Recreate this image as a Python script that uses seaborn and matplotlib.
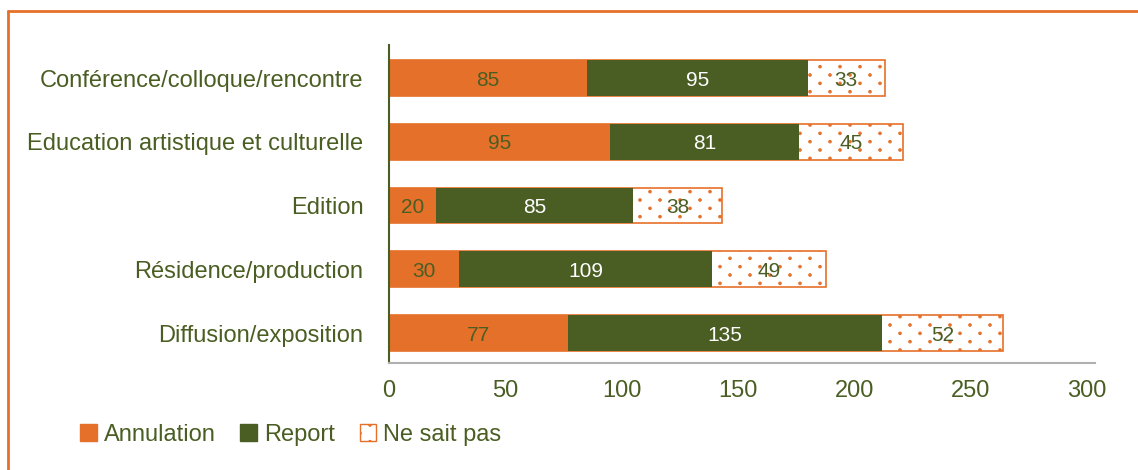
import matplotlib
matplotlib.use("Agg")
import matplotlib.pyplot as plt
import matplotlib.hatch as mhatch
from matplotlib.path import Path
import seaborn as sns
import numpy as np
import pandas as pd
from matplotlib.patches import Patch
from matplotlib.lines import Line2D

categories = ["Conférence/colloque/rencontre", "Education artistique et culturelle",
              "Edition", "Résidence/production", "Diffusion/exposition"]
annulation = [85, 95, 20, 30, 77]
report = [95, 81, 85, 109, 135]
ne_sait_pas = [33, 45, 38, 49, 52]
x_ticks = [0, 50, 100, 150, 200, 250, 300]

ORANGE = "#e5702a"
GREEN = "#4a5e23"
TEXT = "#4a5e23"


# Sparse staggered dot hatch (wider horizontally than vertically), replacing '.'
class SparseDots(mhatch.HatchPatternBase):
    rows = 12
    cols = 5
    radius = 0.013

    def __init__(self, hatch, density):
        self.active = hatch.count('.') > 0
        circ = Path.unit_circle()
        self.shape_vertices = circ.vertices
        self.shape_codes = circ.codes
        n_pts = 0
        for r in range(self.rows + 1):
            n_pts += (self.cols + 1) if r % 2 == 0 else self.cols
        self.num_vertices = n_pts * len(self.shape_vertices) if self.active else 0

    def set_vertices_and_codes(self, vertices, codes):
        sv = self.shape_vertices * self.radius
        vparts, cparts = [], []
        dx = 1.0 / self.cols
        for r in range(self.rows + 1):
            if r % 2 == 0:
                xs = np.linspace(0, 1, self.cols + 1)
            else:
                xs = np.linspace(dx / 2, 1 - dx / 2, self.cols)
            y = r / self.rows
            for x in xs:
                vparts.append(sv + [x, y])
                cparts.append(self.shape_codes)
        np.concatenate(vparts, out=vertices)
        np.concatenate(cparts, out=codes)


mhatch._hatch_types = [t for t in mhatch._hatch_types if t is not mhatch.SmallFilledCircles] + [SparseDots]

sns.set_theme(style="white")
plt.rcParams["font.family"] = ["Liberation Sans", "DejaVu Sans"]
plt.rcParams["hatch.color"] = ORANGE
plt.rcParams["hatch.linewidth"] = 0.7

ann = np.array(annulation)
rep = np.array(report)
nsp = np.array(ne_sait_pas)
df = pd.DataFrame({"cat": categories, "a": ann, "ar": ann + rep, "arn": ann + rep + nsp})

fig = plt.figure(figsize=(11.38, 4.70), dpi=100)
ax = fig.add_axes([389/1138, 1-363/470, (1095-389)/1138, (363-45)/470])

bw = 0.56
sns.barplot(data=df, y="cat", x="arn", orient="h", color="white", edgecolor=ORANGE,
            linewidth=1.2, hatch=".", width=bw, ax=ax, saturation=1)
sns.barplot(data=df, y="cat", x="ar", orient="h", color=GREEN, width=bw, ax=ax,
            saturation=1, linewidth=0)
sns.barplot(data=df, y="cat", x="a", orient="h", color=ORANGE, width=bw, ax=ax,
            saturation=1, linewidth=0)

FS = 17
for i in range(len(categories)):
    ax.text(ann[i] / 2, i, str(ann[i]), ha="center", va="center_baseline", fontsize=15, color=TEXT)
    ax.text(ann[i] + rep[i] / 2, i, str(rep[i]), ha="center", va="center_baseline", fontsize=15, color="white")
    ax.text(ann[i] + rep[i] + nsp[i] / 2, i, str(nsp[i]), ha="center", va="center_baseline", fontsize=15, color=TEXT)

ax.set_xlim(0, 303.4)
ax.set_ylim(4.47, -0.52)
ax.set_xticks(x_ticks)
ax.set_xticklabels([str(t) for t in x_ticks])
ax.set_xlabel("")
ax.set_ylabel("")
ax.tick_params(axis="x", length=0, pad=12, labelsize=FS, labelcolor=TEXT)
ax.tick_params(axis="y", length=0, pad=18.5, labelsize=FS, labelcolor=TEXT)
for s in ["top", "right"]:
    ax.spines[s].set_visible(False)
ax.spines["left"].set_color(GREEN)
ax.spines["left"].set_linewidth(1.5)
ax.spines["bottom"].set_color("#b0b0b0")
ax.spines["bottom"].set_linewidth(1.5)

handles = [Patch(facecolor=ORANGE, edgecolor=ORANGE, label="Annulation"),
           Patch(facecolor=GREEN, edgecolor=GREEN, label="Report"),
           Patch(facecolor="white", edgecolor=ORANGE, hatch=".", label="Ne sait pas")]
fig.legend(handles=handles, loc="center left", bbox_to_anchor=(80/1138, 1-435/470),
           ncol=3, frameon=False, fontsize=FS, labelcolor=TEXT, handlelength=0.7,
           handleheight=0.7, handletextpad=0.3, columnspacing=1.05,
           borderaxespad=0, borderpad=0)

fig.add_artist(Line2D([8/1138, 1], [1-11/470, 1-11/470], color=ORANGE, lw=2, transform=fig.transFigure))
fig.add_artist(Line2D([8/1138, 8/1138], [0, 1-11/470], color=ORANGE, lw=2, transform=fig.transFigure))

fig.savefig("out.png", dpi=100)
